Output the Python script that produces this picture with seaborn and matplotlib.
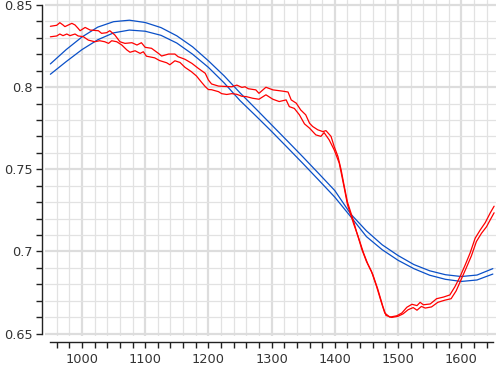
import matplotlib
matplotlib.use("Agg")
import matplotlib.pyplot as plt
from matplotlib.ticker import MultipleLocator, FuncFormatter
import seaborn as sns
import pandas as pd

# ---- data ----
blue_x = [950, 975, 1000, 1025, 1050, 1075, 1100, 1125, 1150, 1175, 1200, 1225,
          1250, 1275, 1300, 1325, 1350, 1375, 1400, 1425, 1450, 1475, 1500, 1525,
          1550, 1575, 1600, 1625, 1650]
blue_upper = [0.8141, 0.8228, 0.8305, 0.8365, 0.8398, 0.8407, 0.8393, 0.8362, 0.8312,
              0.8245, 0.8160, 0.8068, 0.7965, 0.7868, 0.7770, 0.7672, 0.7573, 0.7472,
              0.7370, 0.7228, 0.7125, 0.7040, 0.6975, 0.6920, 0.6882, 0.6858, 0.6847,
              0.6856, 0.6895]
blue_lower = [0.8078, 0.8155, 0.8228, 0.8288, 0.8330, 0.8347, 0.8340, 0.8315, 0.8268,
              0.8200, 0.8120, 0.8025, 0.7918, 0.7825, 0.7730, 0.7632, 0.7533, 0.7432,
              0.7330, 0.7212, 0.7090, 0.7010, 0.6946, 0.6895, 0.6855, 0.6830, 0.6817,
              0.6826, 0.6862]

red1_x = [950, 960, 965, 970, 973, 984, 989, 994, 997, 1005, 1013, 1026, 1031, 1039,
          1044, 1052, 1060, 1068, 1079, 1087, 1094, 1100, 1110, 1121, 1126, 1137, 1147,
          1152, 1163, 1174, 1184, 1195, 1200, 1205, 1216, 1237, 1245, 1253, 1258, 1263,
          1275, 1280, 1291, 1302, 1318, 1326, 1331, 1339, 1346, 1354, 1360, 1365, 1373,
          1381, 1386, 1394, 1399, 1405, 1410, 1415, 1420, 1429, 1435, 1443, 1450, 1458,
          1466, 1474, 1479, 1487, 1498, 1506, 1514, 1522, 1530, 1535, 1540, 1551, 1561,
          1572, 1582, 1590, 1598, 1606, 1614, 1622, 1630, 1638, 1646, 1652]
red1_y = [0.8370, 0.8376, 0.8392, 0.8378, 0.8368, 0.8388, 0.8378, 0.8357, 0.8343,
          0.8363, 0.8347, 0.8343, 0.8327, 0.8331, 0.8343, 0.8317, 0.8276, 0.8266, 0.8270,
          0.8256, 0.8270, 0.8242, 0.8236, 0.8205, 0.8189, 0.8201, 0.8201, 0.8185, 0.8169,
          0.8144, 0.8114, 0.8084, 0.8043, 0.8019, 0.8006, 0.8002, 0.8012, 0.7998, 0.8002,
          0.7990, 0.7983, 0.7962, 0.7999, 0.7983, 0.7975, 0.7970, 0.7922, 0.7902, 0.7861,
          0.7831, 0.7780, 0.7760, 0.7740, 0.7729, 0.7735, 0.7700, 0.7638, 0.7577, 0.7496,
          0.7395, 0.7300, 0.7192, 0.7111, 0.7010, 0.6939, 0.6878, 0.6787, 0.6685, 0.6625,
          0.6600, 0.6608, 0.6625, 0.6660, 0.6678, 0.6670, 0.6690, 0.6675, 0.6680, 0.6712,
          0.6722, 0.6735, 0.6785, 0.6845, 0.6915, 0.6990, 0.7080, 0.7130, 0.7175, 0.7235,
          0.7275]

red2_x = [950, 960, 965, 970, 976, 981, 989, 994, 1002, 1010, 1020, 1028, 1036, 1042,
          1047, 1055, 1063, 1071, 1076, 1084, 1092, 1097, 1102, 1115, 1123, 1134, 1139,
          1147, 1155, 1163, 1173, 1181, 1189, 1195, 1200, 1205, 1216, 1221, 1229, 1237,
          1245, 1253, 1260, 1270, 1280, 1291, 1302, 1312, 1323, 1328, 1336, 1344, 1352,
          1360, 1370, 1378, 1383, 1391, 1399, 1407, 1415, 1420, 1430, 1437, 1445, 1452,
          1460, 1468, 1476, 1481, 1490, 1500, 1508, 1516, 1524, 1530, 1537, 1543, 1553,
          1563, 1574, 1584, 1592, 1600, 1608, 1616, 1624, 1632, 1640, 1647, 1652]
red2_y = [0.8306, 0.8311, 0.8323, 0.8313, 0.8323, 0.8313, 0.8323, 0.8311, 0.8307,
          0.8286, 0.8276, 0.8282, 0.8276, 0.8266, 0.8282, 0.8276, 0.8256, 0.8226, 0.8212,
          0.8221, 0.8205, 0.8215, 0.8188, 0.8178, 0.8161, 0.8148, 0.8136, 0.8160, 0.8150,
          0.8120, 0.8094, 0.8068, 0.8030, 0.8003, 0.7985, 0.7984, 0.7972, 0.7960, 0.7955,
          0.7960, 0.7956, 0.7944, 0.7942, 0.7932, 0.7926, 0.7953, 0.7926, 0.7912, 0.7922,
          0.7881, 0.7870, 0.7831, 0.7776, 0.7750, 0.7709, 0.7700, 0.7723, 0.7679, 0.7618,
          0.7537, 0.7385, 0.7285, 0.7165, 0.7090, 0.6995, 0.6925, 0.6860, 0.6770, 0.6665,
          0.6610, 0.6598, 0.6605, 0.6620, 0.6645, 0.6658, 0.6642, 0.6665, 0.6655, 0.6662,
          0.6690, 0.6703, 0.6712, 0.6760, 0.6830, 0.6900, 0.6972, 0.7060, 0.7110, 0.7150,
          0.7200, 0.7235]

x_ticks = [1000, 1100, 1200, 1300, 1400, 1500, 1600]
y_ticks = [0.65, 0.7, 0.75, 0.8, 0.85]

# ---- style ----
sns.set_style("white")
plt.rcParams["font.family"] = ["DejaVu Sans"]

W, H = 496, 368
fig = plt.figure(figsize=(W / 100, H / 100), dpi=100)
ax = fig.add_axes([45 / W, (H - 336) / H, (W - 45) / W, 336 / H])

blue = "#0a50c8"
red = "#ff0000"
lw = 0.9

df_b1 = pd.DataFrame({"x": blue_x, "y": blue_upper})
df_b2 = pd.DataFrame({"x": blue_x, "y": blue_lower})
df_r1 = pd.DataFrame({"x": red1_x, "y": red1_y})
df_r2 = pd.DataFrame({"x": red2_x, "y": red2_y})

for d, c in [(df_b1, blue), (df_b2, blue), (df_r1, red), (df_r2, red)]:
    sns.lineplot(data=d, x="x", y="y", ax=ax, color=c, lw=lw,
                 estimator=None, sort=False, zorder=3)

ax.set_xlim(941.5, 1655)
ax.set_ylim(0.6485, 0.853)

ax.xaxis.set_major_locator(MultipleLocator(100))
ax.xaxis.set_minor_locator(MultipleLocator(20))
ax.yaxis.set_major_locator(MultipleLocator(0.05))
ax.yaxis.set_minor_locator(MultipleLocator(0.01))
ax.set_xticks(x_ticks)
ax.set_yticks(y_ticks)
ax.yaxis.set_major_formatter(FuncFormatter(lambda v, p: f"{v:g}"))
ax.xaxis.set_major_formatter(FuncFormatter(lambda v, p: f"{v:g}"))

ax.grid(True, which="major", color="#dddddd", lw=1.6, zorder=0)
ax.grid(True, which="minor", color="#e2e2e2", lw=0.9, zorder=0)
ax.set_axisbelow(True)

for s in ["top", "right"]:
    ax.spines[s].set_visible(False)
ax.spines["left"].set_position(("outward", 2))
ax.spines["bottom"].set_position(("outward", 4))
ax.spines["left"].set_bounds(0.65, 0.85)
ax.spines["bottom"].set_bounds(950, 1650)
for s in ["left", "bottom"]:
    ax.spines[s].set_color("#222222")
    ax.spines[s].set_linewidth(1.0)

ax.tick_params(which="both", direction="out", length=4, width=1.0,
               color="#222222", labelcolor="#333333", labelsize=9.3,
               left=True, bottom=True)
ax.tick_params(axis="x", which="major", pad=4)
ax.tick_params(axis="y", which="major", pad=3)
ax.set_xlabel("")
ax.set_ylabel("")

fig.savefig("out.png", dpi=100, facecolor="white")
